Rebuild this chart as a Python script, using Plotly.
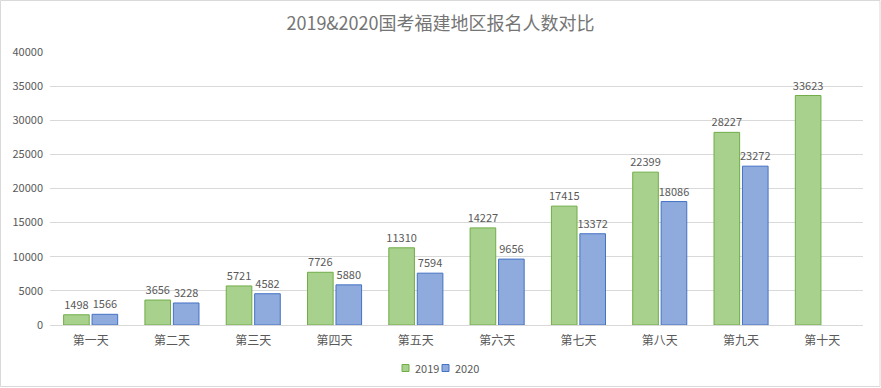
import plotly.graph_objects as go

categories = ["第一天", "第二天", "第三天", "第四天", "第五天", "第六天", "第七天", "第八天", "第九天", "第十天"]
values_2019 = [1498, 3656, 5721, 7726, 11310, 14227, 17415, 22399, 28227, 33623]
values_2020 = [1566, 3228, 4582, 5880, 7594, 9656, 13372, 18086, 23272, None]
y_ticks = [0, 5000, 10000, 15000, 20000, 25000, 30000, 35000, 40000]
y_tick_labels = [str(v) for v in y_ticks]
series_names = ["2019", "2020"]

font_family = "Noto Sans CJK SC, Microsoft YaHei, sans-serif"
gray = "#595959"
fills = ["#A9D18E", "#8FAADC"]
borders = ["#70AD47", "#4472C4"]

# plot area geometry in pixels (for converting legend placement to paper coords)
L, R, T, B, W, H = 50, 18, 52, 63, 881, 388
PW, PH = W - L - R, H - T - B

def px(x):
    return (x - L) / PW

def py(y):
    return (H - B - y) / PH

fig = go.Figure()
for name, vals, fc, bc in zip(series_names, [values_2019, values_2020], fills, borders):
    fig.add_trace(go.Bar(
        name=name, x=categories, y=vals,
        marker=dict(color=fc, line=dict(color=bc, width=1)),
        text=[str(v) if v is not None else "" for v in vals],
        textposition="outside", constraintext="none",
        textfont=dict(color=gray, size=11), cliponaxis=False,
    ))

# compact legend like the original
shapes = [dict(type="rect", xref="paper", yref="paper", x0=-49.5 / PW, x1=1 + 17 / PW,
               y0=-61.5 / PH, y1=1 + 51.5 / PH, line=dict(color="#D9D9D9", width=1))]
annotations = []
leg_x = [402, 442]
for name, lx, fc, bc in zip(series_names, leg_x, fills, borders):
    shapes.append(dict(type="rect", xref="paper", yref="paper",
                       x0=px(lx), x1=px(lx + 7), y0=py(371.5), y1=py(364.5),
                       fillcolor=fc, line=dict(color=bc, width=1)))
    annotations.append(dict(text=name, xref="paper", yref="paper", x=px(lx + 11),
                            y=py(368), xanchor="left", yanchor="middle", showarrow=False,
                            font=dict(size=11, color=gray)))

fig.update_layout(
    width=W, height=H,
    paper_bgcolor="white", plot_bgcolor="white",
    font=dict(family=font_family, color=gray, size=11),
    title=dict(text="2019&2020国考福建地区报名人数对比", x=0.5, xanchor="center",
               y=0.94, yanchor="middle", font=dict(size=18, color="#757575")),
    margin=dict(l=L, r=R, t=T, b=B, autoexpand=False),
    barmode="group", bargap=0.3, bargroupgap=0.1,
    showlegend=False,
    xaxis=dict(showgrid=False, showline=True, linecolor="#D9D9D9", ticks="",
               automargin=False, tickfont=dict(size=12, color=gray), ticklabelstandoff=5),
    yaxis=dict(range=[0, 40000], tickvals=y_ticks, ticktext=y_tick_labels,
               showgrid=True, gridcolor="#D9D9D9", automargin=False,
               zeroline=False, showline=False, tickfont=dict(size=11, color=gray),
               ticklabelstandoff=6),
    shapes=shapes,
    annotations=annotations,
)

fig.write_html("out.html", config={"displayModeBar": False},
               post_script="document.body.style.margin='0';")
